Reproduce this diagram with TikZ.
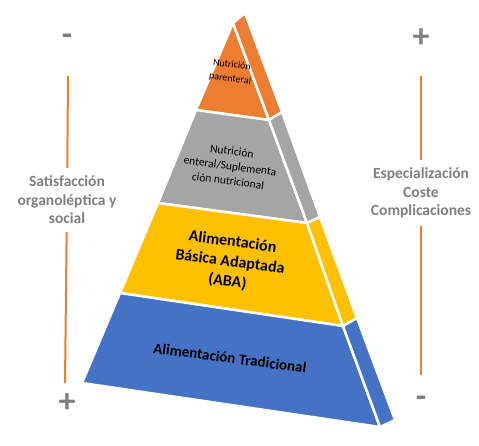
\documentclass[tikz,border=0pt]{standalone}
\usepackage{fontspec}
\setmainfont{Carlito}
\definecolor{tierorange}{HTML}{ED7D31}
\definecolor{tiergray}{HTML}{A5A5A5}
\definecolor{tieryellow}{HTML}{FFC000}
\definecolor{tierblue}{HTML}{4472C4}
\definecolor{labelgray}{HTML}{7F7F7F}
\begin{document}
\begin{tikzpicture}[x=1pt, y=-1pt,
    tier/.style ={draw=white, line width=2.5pt, line join=round},
    tiertext/.style ={align=center, rotate=-7.5, text=black},
    sidetext/.style ={align=center, text=labelgray, inner xsep=2pt, inner ysep=8pt,
      font=\fontsize{15.5}{18.5}\selectfont\bfseries},
    sign/.style ={text=labelgray, font=\fontsize{34}{34}\selectfont\bfseries},
    axisline/.style ={draw=tierorange, line width=2pt}]
   \useasboundingbox (0,0) rectangle (479,445);
   % front face corners
   \coordinate (F0) at (233,23);
   \coordinate (L1) at (196,110);
   \coordinate (L2) at (158,203);
   \coordinate (L3) at (120,293);
   \coordinate (L4) at (82,383);
   \coordinate (R1) at (269,120);
   \coordinate (R2) at (307,223);
   \coordinate (R3) at (343,326);
   \coordinate (R4) at (380,427);
   % side face corners
   \coordinate (S0) at (245,13);
   \coordinate (S1) at (282,112);
   \coordinate (S2) at (320,217);
   \coordinate (S3) at (357,318);
   \coordinate (S4) at (395,420);
   % tiers
   \filldraw[tier, fill=tierorange] (F0) -- (R1) -- (L1) -- cycle;
   \filldraw[tier, fill=tierorange] (F0) -- (S0) -- (S1) -- (R1) -- cycle;
   \filldraw[tier, fill=tiergray] (L1) -- (R1) -- (R2) -- (L2) -- cycle;
   \filldraw[tier, fill=tiergray] (R1) -- (S1) -- (S2) -- (R2) -- cycle;
   \filldraw[tier, fill=tieryellow] (L2) -- (R2) -- (R3) -- (L3) -- cycle;
   \filldraw[tier, fill=tieryellow] (R2) -- (S2) -- (S3) -- (R3) -- cycle;
   \filldraw[tier, fill=tierblue] (L3) -- (R3) -- (R4) -- (L4) -- cycle;
   \filldraw[tier, fill=tierblue] (R3) -- (S3) -- (S4) -- (R4) -- cycle;
   % tier labels
   \node[tiertext, font=\fontsize{10}{14}\selectfont] (parenteral) at (231,72)
     {Nutrición\\parenteral};
   \node[tiertext, font=\fontsize{11.5}{15}\selectfont] (enteral) at (230,166)
     {Nutrición\\enteral/Suplementa\\ción nutricional};
   \node[tiertext, font=\fontsize{16}{20}\selectfont\bfseries] (aba) at (230,262)
     {Alimentación\\Básica Adaptada\\(ABA)};
   \node[tiertext, font=\fontsize{15}{18}\selectfont\bfseries] (tradicional) at (230,358)
     {Alimentación Tradicional};
   % left axis
   \node[sign] (lminus) at (67,40) {-};
   \node[sign] (lplus) at (67,403) {+};
   \node[sidetext] (satisfaccion) at (67,200)
     {Satisfacción\\organoléptica y\\social};
   \coordinate (ltop) at (68,76);
   \coordinate (lbot) at (65,383);
   \draw[axisline] (ltop) -- (satisfaccion);
   \draw[axisline] (satisfaccion) -- (lbot);
   % right axis
   \node[sign] (rplus) at (421,38) {+};
   \node[sign] (rminus) at (421,402) {-};
   \node[sidetext] (especializacion) at (421,193)
     {Especialización\\Coste\\Complicaciones};
   \coordinate (rtop) at (421,76);
   \coordinate (rbot) at (421,375);
   \draw[axisline] (rtop) -- (especializacion);
   \draw[axisline] (especializacion) -- (rbot);
 \end{tikzpicture}
\end{document}
